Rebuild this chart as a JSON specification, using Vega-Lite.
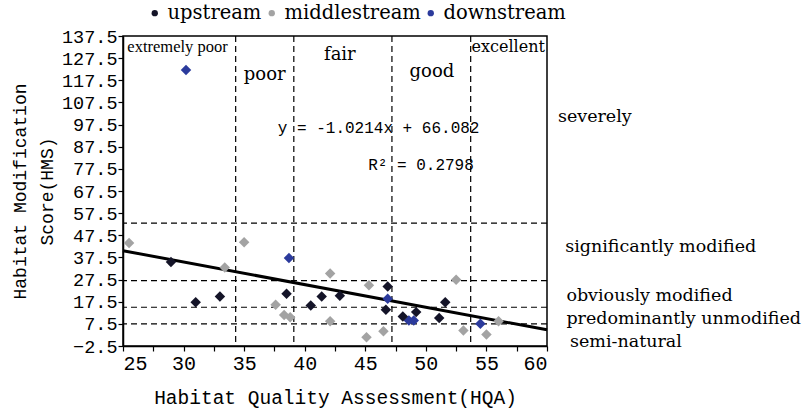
{
  "$schema": "https://vega.github.io/schema/vega-lite/v6.json",
  "autosize": {"type": "none"},
  "padding": {"left": 123, "top": 36, "right": 259, "bottom": 66},
  "width": 424,
  "height": 310,
  "background": "white",
  "config": {
    "view": {"stroke": "black", "strokeWidth": 1.5},
    "axis": {"grid": false, "domainColor": "black", "tickColor": "black", "labelColor": "black", "titleColor": "black", "labelFont": "Liberation Mono", "titleFont": "Liberation Mono", "titleFontWeight": "normal", "labelFontSize": 18, "titleFontSize": 18, "tickSize": 5, "domainWidth": 1.5, "tickWidth": 1.2, "labelOverlap": false}
  },
  "layer": [
    {
      "data": {"values": [{"v": 34.3}, {"v": 39.1}, {"v": 47.2}, {"v": 53.7}]},
      "mark": {"type": "rule", "color": "black", "strokeDash": [6, 4], "strokeWidth": 1.2},
      "encoding": {"x": {"field": "v", "type": "quantitative", "scale": {"domain": [25, 60], "nice": false, "zero": false},
              "title": "Habitat Quality Assessment(HQA)",
              "axis": {"values": [25, 27.5, 30, 32.5, 35, 37.5, 40, 42.5, 45, 47.5, 50, 52.5, 55, 57.5, 60], "tickCount": 30,
                       "labelExpr": "datum.value % 5 == 0 ? datum.label : ''", "labelPadding": 2, "labelFontSize": 20, "titleFontSize": 19.5, "titleBaseline": "middle", "titleY": 51, "labelOverlap": false}}}
    },
    {
      "data": {"values": [{"h": 53}, {"h": 27}, {"h": 15}, {"h": 7.5}]},
      "mark": {"type": "rule", "color": "black", "strokeDash": [6, 4], "strokeWidth": 1.2},
      "encoding": {"y": {"field": "h", "type": "quantitative", "scale": {"domain": [-2.5, 137.5], "nice": false, "zero": false},
              "title": ["Habitat Modification", "Score(HMS)"],
              "axis": {"values": [-2.5, 7.5, 17.5, 27.5, 37.5, 47.5, 57.5, 67.5, 77.5, 87.5, 97.5, 107.5, 117.5, 127.5, 137.5], "tickCount": 30,
                       "format": ".1f", "labelPadding": 1, "labelFontSize": 18.5, "labelOverlap": false,
                       "titleX": -112, "titleY": 155, "titleBaseline": "top", "titleLineHeight": 27}}}
    },
    {
      "data": {"values": [{"x": 25, "y": 40.55}, {"x": 60, "y": 4.8}]},
      "mark": {"type": "line", "color": "black", "strokeWidth": 3},
      "encoding": {
        "x": {"field": "x", "type": "quantitative"},
        "y": {"field": "y", "type": "quantitative"}
      }
    },
    {
      "data": {"values": [
        {"s": "downstream", "x": 30.2, "y": 122.1},
        {"s": "downstream", "x": 38.7, "y": 37.2},
        {"s": "downstream", "x": 46.85, "y": 18.8},
        {"s": "downstream", "x": 48.6, "y": 9.0},
        {"s": "downstream", "x": 49.0, "y": 9.0},
        {"s": "downstream", "x": 54.5, "y": 7.5},
        {"s": "upstream", "x": 28.96, "y": 35.4},
        {"s": "upstream", "x": 31.0, "y": 17.3},
        {"s": "upstream", "x": 33.0, "y": 19.9},
        {"s": "upstream", "x": 38.5, "y": 21.1},
        {"s": "upstream", "x": 40.5, "y": 15.8},
        {"s": "upstream", "x": 41.4, "y": 19.9},
        {"s": "upstream", "x": 42.9, "y": 20.2},
        {"s": "upstream", "x": 46.85, "y": 24.4},
        {"s": "upstream", "x": 46.7, "y": 13.9},
        {"s": "upstream", "x": 48.1, "y": 10.8},
        {"s": "upstream", "x": 49.2, "y": 12.8},
        {"s": "upstream", "x": 51.6, "y": 17.3},
        {"s": "upstream", "x": 51.1, "y": 10.1},
        {"s": "middlestream", "x": 25.5, "y": 44.0},
        {"s": "middlestream", "x": 35.0, "y": 44.4},
        {"s": "middlestream", "x": 33.4, "y": 32.9},
        {"s": "middlestream", "x": 37.6, "y": 16.1},
        {"s": "middlestream", "x": 38.3, "y": 11.5},
        {"s": "middlestream", "x": 38.8, "y": 10.5},
        {"s": "middlestream", "x": 42.1, "y": 30.2},
        {"s": "middlestream", "x": 42.1, "y": 8.7},
        {"s": "middlestream", "x": 45.3, "y": 24.9},
        {"s": "middlestream", "x": 45.1, "y": 1.5},
        {"s": "middlestream", "x": 46.5, "y": 4.2},
        {"s": "middlestream", "x": 52.5, "y": 27.4},
        {"s": "middlestream", "x": 53.1, "y": 4.5},
        {"s": "middlestream", "x": 56.0, "y": 8.7},
        {"s": "middlestream", "x": 55.0, "y": 2.7}
      ]},
      "mark": {"type": "point", "shape": "diamond", "filled": true, "size": 110, "opacity": 1},
      "encoding": {
        "x": {"field": "x", "type": "quantitative"},
        "y": {"field": "y", "type": "quantitative"},
        "color": {"field": "s", "type": "nominal",
                  "scale": {"domain": ["upstream", "middlestream", "downstream"], "range": ["#141428", "#a3a3a3", "#2b3a9c"]},
                  "legend": {"title": null, "orient": "none", "direction": "horizontal", "legendX": 22, "legendY": -33,
                             "symbolType": "circle", "symbolSize": 40, "labelFont": "DejaVu Serif", "labelFontSize": 19.5,
                             "labelColor": "black", "columnPadding": 0, "labelOffset": 3, "labelLimit": 300}}
      }
    },
    {
      "data": {"values": [
        {"t": "poor", "x": 36.7, "y": 119.8},
        {"t": "fair", "x": 42.9, "y": 128.9},
        {"t": "good", "x": 50.5, "y": 121.2}
      ]},
      "mark": {"type": "text", "font": "DejaVu Serif", "fontSize": 18, "color": "black", "align": "center", "baseline": "middle"},
      "encoding": {"x": {"field": "x", "type": "quantitative"}, "y": {"field": "y", "type": "quantitative"}, "text": {"field": "t"}}
    },
    {
      "data": {"values": [{"t": "excellent", "x": 56.8, "y": 132.5}]},
      "mark": {"type": "text", "font": "DejaVu Serif", "fontSize": 16, "color": "black", "align": "center", "baseline": "middle"},
      "encoding": {"x": {"field": "x", "type": "quantitative"}, "y": {"field": "y", "type": "quantitative"}, "text": {"field": "t"}}
    },
    {
      "data": {"values": [{"t": "extremely poor", "x": 29.5, "y": 132.5}]},
      "mark": {"type": "text", "font": "Liberation Serif", "fontSize": 16.5, "color": "black", "align": "center", "baseline": "middle"},
      "encoding": {"x": {"field": "x", "type": "quantitative"}, "y": {"field": "y", "type": "quantitative"}, "text": {"field": "t"}}
    },
    {
      "data": {"values": [
        {"t": "y = -1.0214x + 66.082", "x": 46.1, "y": 95.9},
        {"t": "R² = 0.2798", "x": 49.6, "y": 79.1}
      ]},
      "mark": {"type": "text", "font": "Liberation Mono", "fontSize": 16, "color": "black", "align": "center", "baseline": "middle"},
      "encoding": {"x": {"field": "x", "type": "quantitative"}, "y": {"field": "y", "type": "quantitative"}, "text": {"field": "t"}}
    },
    {
      "data": {"values": [
        {"t": "severely", "x": 60.9, "y": 100.8},
        {"t": "significantly modified", "x": 61.5, "y": 42.0},
        {"t": "obviously modified", "x": 61.6, "y": 20.3},
        {"t": "predominantly unmodified", "x": 61.6, "y": 9.9},
        {"t": "semi-natural", "x": 61.9, "y": -0.5}
      ]},
      "mark": {"type": "text", "font": "DejaVu Serif", "fontSize": 17.5, "color": "black", "align": "left", "baseline": "middle"},
      "encoding": {"x": {"field": "x", "type": "quantitative"}, "y": {"field": "y", "type": "quantitative"}, "text": {"field": "t"}}
    }
  ]
}
